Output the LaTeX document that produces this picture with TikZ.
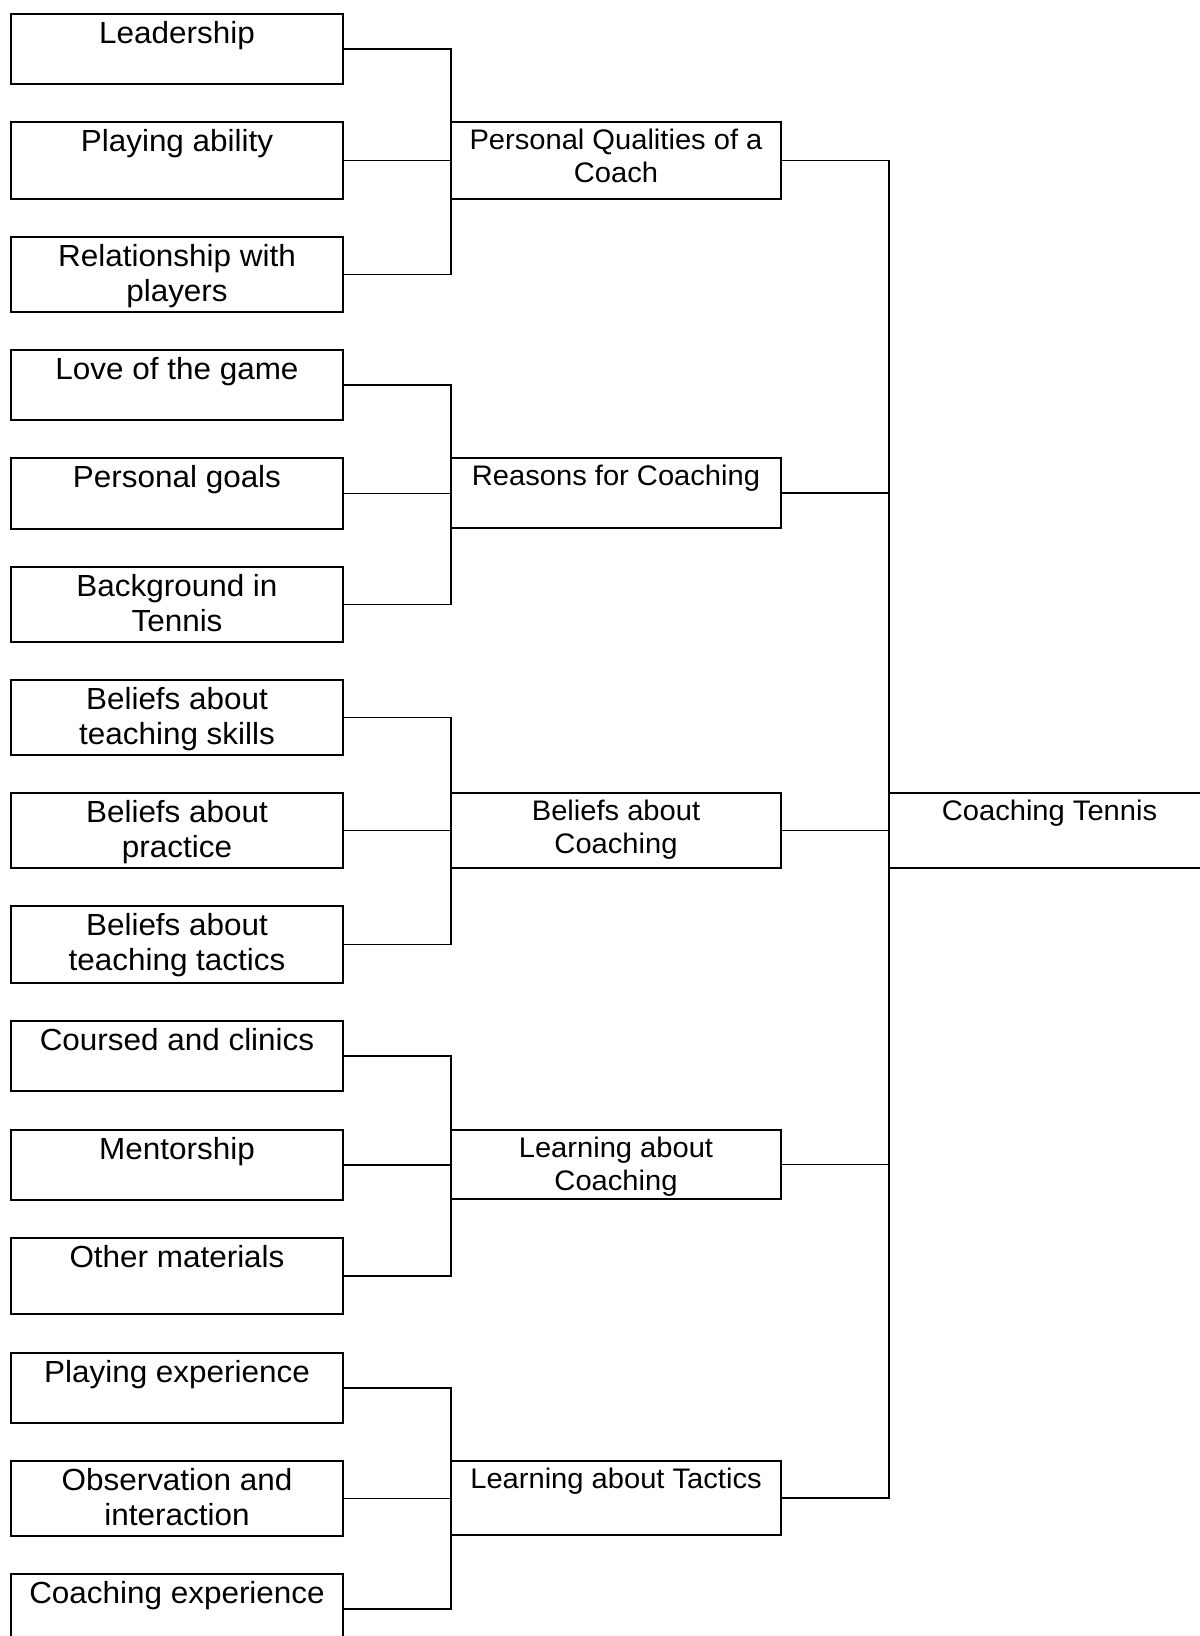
\documentclass[tikz,border=0pt]{standalone}
\usepackage{fontspec}
\newfontfamily\diagfont{Liberation Sans}[FakeStretch=1.03]
\tikzset{
  ln/.style={line width=1.1pt},
  leafbox/.style={draw, ln, anchor=north west, inner sep=0pt, outer sep=0pt, minimum width=249pt, minimum height=#1},
  midbox/.style={draw, ln, anchor=north west, inner sep=0pt, outer sep=0pt, minimum width=247.5pt, minimum height=#1},
  leaftext/.style={anchor=north, inner sep=0pt, align=center, yshift=-3.75pt, font=\diagfont\fontsize{22.9pt}{26.25pt}\selectfont},
  midtext/.style={anchor=north, inner sep=0pt, align=center, yshift=-2.9pt, font=\diagfont\fontsize{21.2pt}{24.75pt}\selectfont},
  conn/.style={draw, ln}
}
\begin{document}
\begin{tikzpicture}[x=0.75pt, y=-0.75pt]
\useasboundingbox (0,0) rectangle (1200,1636);
\clip (0,0) rectangle (1200,1636);
% leaf boxes
\node[leafbox=52.5pt]  (L1)  at (11,14)   {};
\node[leafbox=57.75pt] (L2)  at (11,122)  {};
\node[leafbox=56.25pt] (L3)  at (11,237)  {};
\node[leafbox=52.5pt]  (L4)  at (11,350)  {};
\node[leafbox=53.25pt] (L5)  at (11,458)  {};
\node[leafbox=56.25pt] (L6)  at (11,567)  {};
\node[leafbox=56.25pt] (L7)  at (11,680)  {};
\node[leafbox=56.25pt] (L8)  at (11,793)  {};
\node[leafbox=57.75pt] (L9)  at (11,906)  {};
\node[leafbox=52.5pt]  (L10) at (11,1021) {};
\node[leafbox=52.5pt]  (L11) at (11,1130) {};
\node[leafbox=57pt]    (L12) at (11,1238) {};
\node[leafbox=52.5pt]  (L13) at (11,1353) {};
\node[leafbox=56.25pt] (L14) at (11,1461) {};
\node[leafbox=52.5pt]  (L15) at (11,1574) {};
% leaf texts
\node[leaftext] (T1)  at (L1.north)  {\strut Leadership};
\node[leaftext] (T2)  at (L2.north)  {\strut Playing ability};
\node[leaftext] (T3)  at (L3.north)  {\strut Relationship with\\players};
\node[leaftext] (T4)  at (L4.north)  {\strut Love of the game};
\node[leaftext] (T5)  at (L5.north)  {\strut Personal goals};
\node[leaftext] (T6)  at (L6.north)  {\strut Background in\\Tennis};
\node[leaftext] (T7)  at (L7.north)  {\strut Beliefs about\\teaching skills};
\node[leaftext] (T8)  at (L8.north)  {\strut Beliefs about\\practice};
\node[leaftext] (T9)  at (L9.north)  {\strut Beliefs about\\teaching tactics};
\node[leaftext] (T10) at (L10.north) {\strut Coursed and clinics};
\node[leaftext] (T11) at (L11.north) {\strut Mentorship};
\node[leaftext] (T12) at (L12.north) {\strut Other materials};
\node[leaftext] (T13) at (L13.north) {\strut Playing experience};
\node[leaftext] (T14) at (L14.north) {\strut Observation and\\interaction};
\node[leaftext] (T15) at (L15.north) {\strut Coaching experience};
% middle boxes
\node[midbox=57.75pt] (M1) at (451,122)  {};
\node[midbox=52.5pt]  (M2) at (451,458)  {};
\node[midbox=56.25pt] (M3) at (451,793)  {};
\node[midbox=51.75pt] (M4) at (451,1130) {};
\node[midbox=55.5pt]  (M5) at (451,1461) {};
\node[midtext] (U1) at (M1.north) {\strut Personal Qualities of a\\Coach};
\node[midtext] (U2) at (M2.north) {\strut Reasons for Coaching};
\node[midtext] (U3) at (M3.north) {\strut Beliefs about\\Coaching};
\node[midtext] (U4) at (M4.north) {\strut Learning about\\Coaching};
\node[midtext] (U5) at (M5.north) {\strut Learning about Tactics};
% root box
\node[draw, ln, anchor=north west, inner sep=0pt, outer sep=0pt, minimum width=240.75pt, minimum height=56.25pt] (CT) at (889,793) {};
\node[midtext] (UCT) at (CT.north) {\strut Coaching Tennis};
% group connectors
\draw[conn] (L1.east) -- (L1.east -| M1.west) -- (L3.east -| M1.west) -- (L3.east);
\draw[conn] (L2.east) -- (L2.east -| M1.west);
\draw[conn] (L4.east) -- (L4.east -| M2.west) -- (L6.east -| M2.west) -- (L6.east);
\draw[conn] (L5.east) -- (L5.east -| M2.west);
\draw[conn] (L7.east) -- (L7.east -| M3.west) -- (L9.east -| M3.west) -- (L9.east);
\draw[conn] (L8.east) -- (L8.east -| M3.west);
\draw[conn] (L10.east) -- (L10.east -| M4.west) -- (L12.east -| M4.west) -- (L12.east);
\draw[conn] (L11.east) -- (L11.east -| M4.west);
\draw[conn] (L13.east) -- (L13.east -| M5.west) -- (L15.east -| M5.west) -- (L15.east);
\draw[conn] (L14.east) -- (L14.east -| M5.west);
% root connectors
\draw[conn] (M1.east) -- (M1.east -| CT.west) -- (M5.east -| CT.west) -- (M5.east);
\draw[conn] (M2.east) -- (M2.east -| CT.west);
\draw[conn] (M3.east) -- (M3.east -| CT.west);
\draw[conn] (M4.east) -- (M4.east -| CT.west);
\end{tikzpicture}
\end{document}
